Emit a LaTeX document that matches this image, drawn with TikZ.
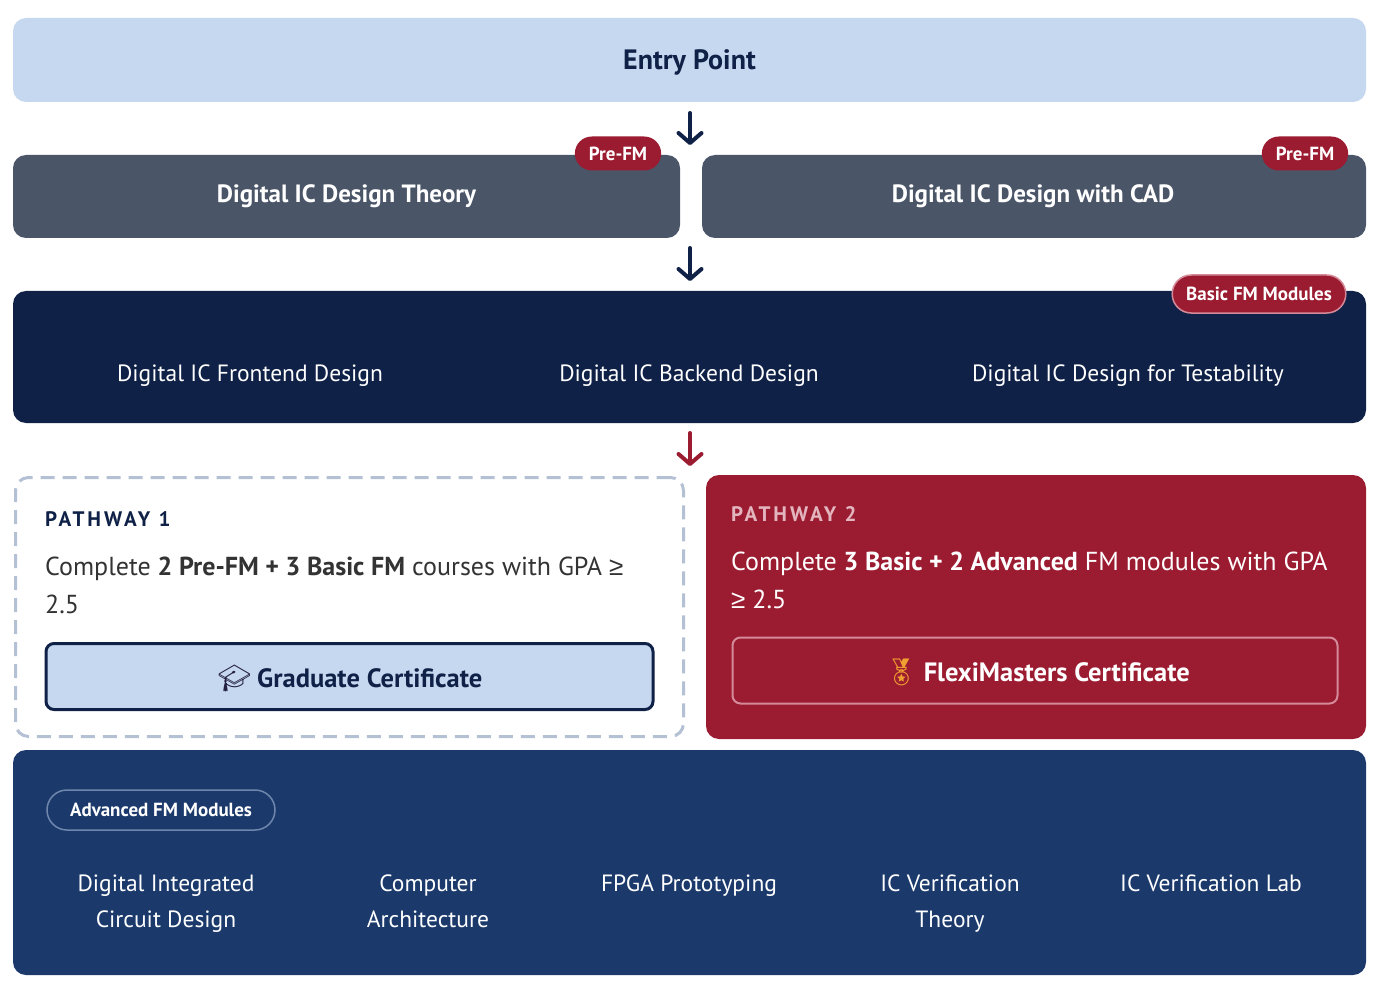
\documentclass[tikz,border=0pt]{standalone}
\usepackage{fontspec}
\setmainfont{PT Sans}
\newfontfamily\emoji{Noto Emoji}
\newfontfamily\symf{Liberation Sans}
\newcommand{\mygeq}{{\symf ≥}}
\usetikzlibrary{arrows.meta}
\definecolor{navy}{HTML}{0F2147}
\definecolor{lightblue}{HTML}{C6D8F0}
\definecolor{slate}{HTML}{4A5568}
\definecolor{crimson}{HTML}{9B1C31}
\definecolor{advblue}{HTML}{1B3A6B}
\definecolor{dashgray}{HTML}{B4C0D4}
\definecolor{textgray}{HTML}{333333}
\definecolor{pinkline}{HTML}{D48A99}
\definecolor{pinktext}{HTML}{E3B5BE}
\definecolor{badgeline}{HTML}{6F86AD}
\definecolor{capcol}{HTML}{231F40}
\definecolor{medalcol}{HTML}{F0A030}
\tikzset{
  panel/.style={rounded corners=13pt, inner sep=0pt},
  headtext/.style={text=white, font=\fontsize{25}{28}\selectfont\bfseries},
  modtext/.style={text=white, align=center, anchor=base, font=\fontsize{23.5}{36}\selectfont},
  pill/.style={rounded corners=17pt, fill=crimson, text=white, inner xsep=14pt, inner ysep=0pt, minimum height=34pt, font=\fontsize{19}{22}\selectfont\bfseries},
  arr/.style={line width=4pt, line cap=round, line join=round, -{Straight Barb[length=10pt,width=23pt,line cap=round,line join=round]}},
  pwtitle/.style={anchor=base west, inner sep=0pt, font=\fontsize{21}{24}\selectfont\bfseries\addfontfeature{LetterSpace=14}},
  pwtext/.style={anchor=base west, inner sep=0pt, align=left, font=\fontsize{26}{38}\selectfont},
  certtext/.style={font=\fontsize{26.5}{30}\selectfont\bfseries},
}
\begin{document}
\begin{tikzpicture}[x=1pt,y=-1pt]
\useasboundingbox[fill=white] (0,0) rectangle (1381,992);
% Entry
\node[panel, fill=lightblue, minimum width=1353pt, minimum height=84pt] (entry) at (689.5,60) {};
\node[text=navy, font=\fontsize{28}{30}\selectfont\bfseries] (entrytxt) at (689.5,62) {Entry Point};
% Pre-FM
\node[panel, fill=slate, minimum width=667pt, minimum height=83pt] (theory) at (346.5,196.5) {};
\node[headtext] (theorytxt) at (346.5,196) {Digital IC Design Theory};
\node[panel, fill=slate, minimum width=664pt, minimum height=83pt] (cad) at (1034,196.5) {};
\node[headtext] (cadtxt) at (1033,196) {Digital IC Design with CAD};
\node[pill] (pre1) at (618,153.5) {Pre-FM};
\node[pill] (pre2) at (1305,153.5) {Pre-FM};
% Basic
\node[panel, fill=navy, minimum width=1353pt, minimum height=132pt] (basic) at (689.5,357) {};
\node[modtext] (b1) at (250,381) {Digital IC Frontend Design};
\node[modtext] (b2) at (689,381) {Digital IC Backend Design};
\node[modtext] (b3) at (1128,381) {Digital IC Design for Testability};
\node[pill, rounded corners=19pt, minimum height=38pt, draw=pinkline, line width=1.5pt] (basicbadge) at (1259,294) {Basic FM Modules};
% arrows
\coordinate (a1s) at (690,113);
\coordinate (a1e) at (690,145);
\draw[arr, navy] (a1s) -- (a1e);
\coordinate (a2s) at (690,248);
\coordinate (a2e) at (690,281);
\draw[arr, navy] (a2s) -- (a2e);
\coordinate (a3s) at (690,433);
\coordinate (a3e) at (690,466);
\draw[arr, crimson] (a3s) -- (a3e);
% Pathway 1
\node[panel, draw=dashgray, line width=3pt, dash pattern=on 14pt off 8pt, minimum width=668pt, minimum height=259pt] (pw1) at (349.5,607) {};
\node[pwtitle, text=navy] (pw1title) at (45,526) {PATHWAY 1};
\node[pwtext, text=textgray] (pw1text) at (45,613) {Complete \textbf{2 Pre-FM + 3 Basic FM} courses with GPA \mygeq\\2.5};
\node[panel, rounded corners=8pt, fill=lightblue, draw=navy, line width=3pt, minimum width=607pt, minimum height=66pt] (grad) at (349.5,676.5) {};
\node[certtext, text=navy] (gradtxt) at (350,678) {{\emoji\color{capcol}🎓}\hspace{6pt}Graduate Certificate};
% Pathway 2
\node[panel, fill=crimson, minimum width=660pt, minimum height=264pt] (pw2) at (1036,607) {};
\node[pwtitle, text=pinktext] (pw2title) at (731,521) {PATHWAY 2};
\node[pwtext, text=white] (pw2text) at (731,608) {Complete \textbf{3 Basic + 2 Advanced} FM modules with GPA\\\mygeq{} 2.5};
\node[panel, rounded corners=8pt, draw=pinkline, line width=2pt, minimum width=605pt, minimum height=66pt] (flexi) at (1035,670.5) {};
\node[certtext, text=white] (flexitxt) at (1037,672) {{\emoji\color{medalcol}🏅}\hspace{6pt}FlexiMasters Certificate};
% Advanced
\node[panel, fill=advblue, minimum width=1353pt, minimum height=225pt] (adv) at (689.5,862.5) {};
\node[pill, fill=advblue, rounded corners=20pt, minimum height=40pt, minimum width=228pt, draw=badgeline, line width=1.5pt] (advbadge) at (161,810) {Advanced FM Modules};
\node[modtext] (m1) at (166,927) {Digital Integrated\\Circuit Design};
\node[modtext] (m2) at (428,927) {Computer\\Architecture};
\node[modtext] (m3) at (689,891) {FPGA Prototyping};
\node[modtext] (m4) at (950,927) {IC Verification\\Theory};
\node[modtext] (m5) at (1211,891) {IC Verification Lab};
\end{tikzpicture}
\end{document}
